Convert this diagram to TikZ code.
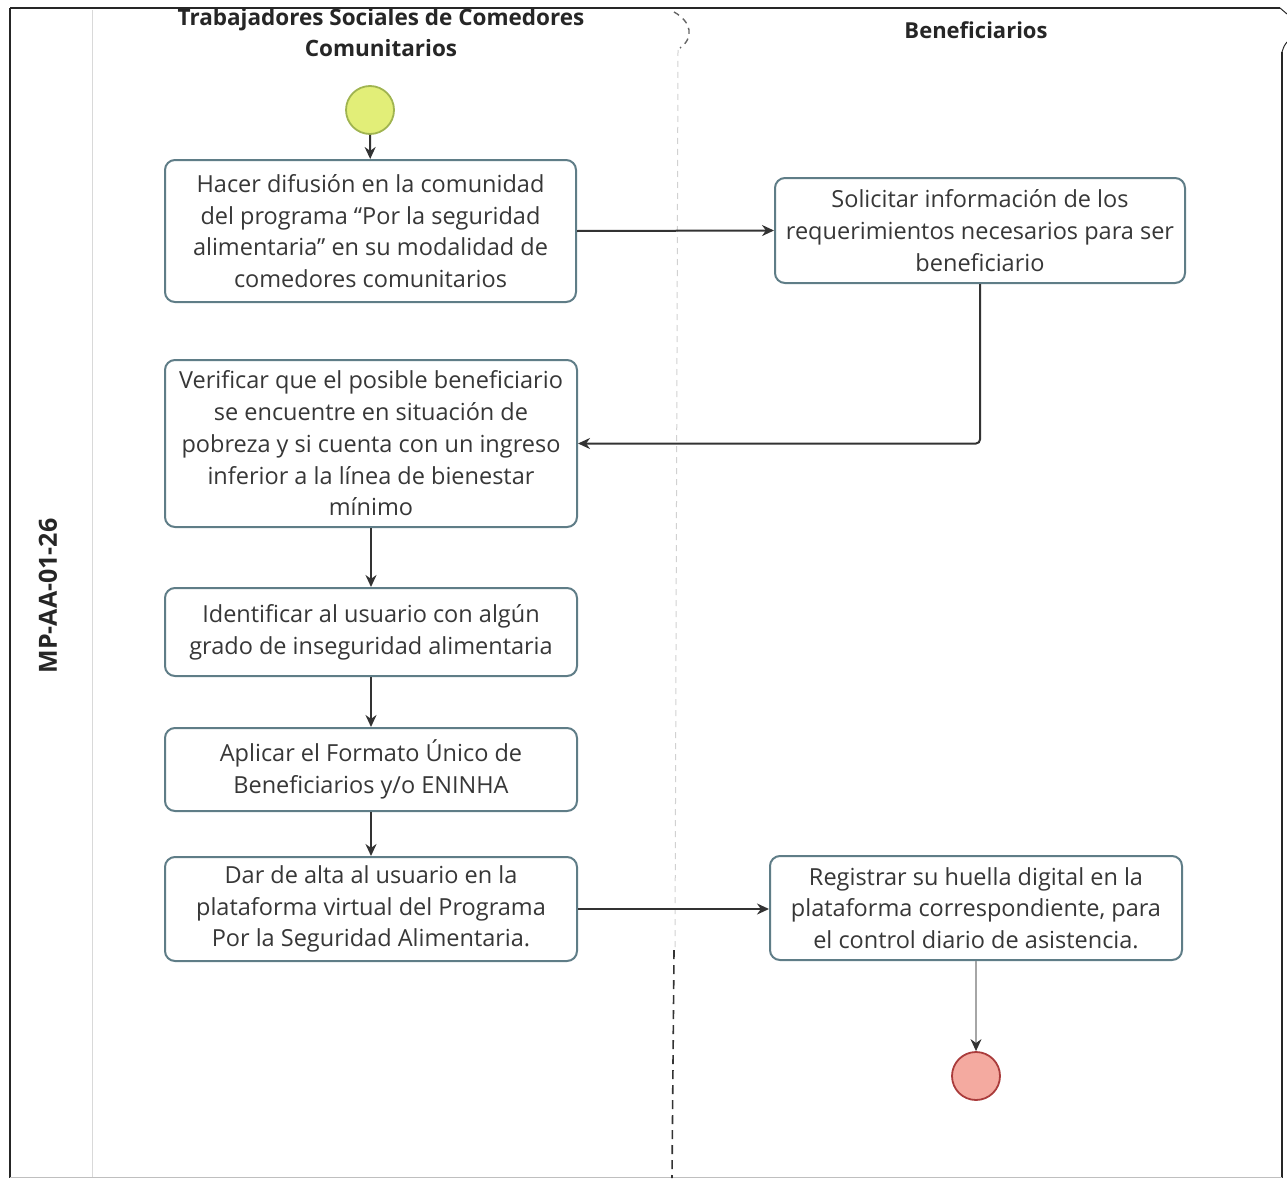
\documentclass[tikz,border=0pt]{standalone}
\usepackage{fontspec}
\setmainfont{Open Sans}
\usetikzlibrary{arrows.meta}
\definecolor{boxborder}{RGB}{95,125,135}
\definecolor{txt}{RGB}{55,55,55}
\definecolor{startfill}{RGB}{226,238,120}
\definecolor{startdraw}{RGB}{160,180,80}
\definecolor{endfill}{RGB}{244,170,160}
\definecolor{enddraw}{RGB}{170,60,60}
\tikzset{
  actbox/.style={draw=boxborder, line width=2pt, rounded corners=10pt, fill=white,
    text=txt, align=center, inner sep=0pt,
    font=\fontsize{23.5}{31.7}\selectfont},
  conn/.style={draw=black!80, line width=2pt, -{Stealth[length=12pt,width=11pt]}},
  lightconn/.style={draw=black!35, line width=1.2pt, -{Stealth[length=12pt,width=11pt,fill=black!80,color=black!80]}},
  header/.style={font=\bfseries\fontsize{22.5}{31}\selectfont, text=black!85, align=center},
  frame/.style={draw=black!85, line width=1.6pt},
}
\begin{document}
\begin{tikzpicture}[x=1pt,y=-1pt]
\useasboundingbox (0,0) rectangle (1287,1180);
% frame
\draw[frame] (10,8) -- (10,1178);
\draw[frame] (10,8) -- (1280,8);
\draw[frame, line width=1pt] (1280,8) -- (1287,14);
\draw[frame, line width=1pt] (1287,42) .. controls (1284,46) .. (1282,52);
\draw[frame] (1282,52) -- (1282,1178);
\draw[black!25, line width=1pt] (10,1177) -- (1282,1177);
\draw[black!15, line width=1pt] (92,10) -- (92,1177);
% lane divider
\draw[black!60, line width=1.4pt, dash pattern=on 6pt off 5pt] (674,12) .. controls (692,22) and (694,38) .. (680,48);
\draw[black!18, line width=1pt, dash pattern=on 6pt off 5pt] (678,50) -- (675,950);
\draw[black!80, line width=1.6pt, dash pattern=on 9pt off 6pt] (674,950) -- (672,1178);
% headers
\begin{scope}
\clip (0,10) rectangle (1287,1180);
\node[header] (h1) at (381,33) {Trabajadores Sociales de Comedores\\Comunitarios};
\end{scope}
\node[header, font=\bfseries\fontsize{22}{31}\selectfont] (h2) at (976,30) {Beneficiarios};
\node[font=\bfseries\fontsize{25}{28}\selectfont, text=black!85, rotate=90] (code) at (48,596) {MP-AA-01-26};
% nodes
\node[circle, minimum size=48pt, inner sep=0pt, fill=startfill, draw=startdraw, line width=1.8pt] (start) at (370,110) {};
\node[actbox, minimum width=411pt, minimum height=142pt] (b1) at (370.5,231)
  {Hacer difusión en la comunidad\\del programa “Por la seguridad\\alimentaria” en su modalidad de\\comedores comunitarios};
\node[actbox, minimum width=410pt, minimum height=105pt] (b2) at (980,230.5)
  {Solicitar información de los\\requerimientos necesarios para ser\\beneficiario};
\node[actbox, minimum width=412pt, minimum height=167pt] (b3) at (371,443.5)
  {Verificar que el posible beneficiario\\se encuentre en situación de\\pobreza y si cuenta con un ingreso\\inferior a la línea de bienestar\\mínimo};
\node[actbox, minimum width=412pt, minimum height=88pt] (b4) at (371,632)
  {Identificar al usuario con algún\\grado de inseguridad alimentaria};
\node[actbox, minimum width=412pt, minimum height=83pt] (b5) at (371,769.5)
  {Aplicar el Formato Único de\\Beneficiarios y/o ENINHA};
\node[actbox, minimum width=412pt, minimum height=104pt] (b6) at (371,909)
  {Dar de alta al usuario en la\\plataforma virtual del Programa\\Por la Seguridad Alimentaria.};
\node[actbox, minimum width=412pt, minimum height=104pt] (b7) at (976,908)
  {Registrar su huella digital en la\\plataforma correspondiente, para\\el control diario de asistencia.};
\node[circle, minimum size=48pt, inner sep=0pt, fill=endfill, draw=enddraw, line width=1.8pt] (end) at (976,1076) {};
% connectors
\draw[conn] (start) -- (b1);
\draw[conn] (b1.east) -- (b2.west);
\draw[conn, rounded corners=4pt] (b2.south) -- (b2.south |- b3.east) -- (b3.east);
\draw[conn] (b3) -- (b4);
\draw[conn] (b4) -- (b5);
\draw[conn] (b5) -- (b6);
\draw[conn] (b6.east) -- (b6.east -| b7.west);
\draw[lightconn] (b7) -- (end);
\end{tikzpicture}
\end{document}
